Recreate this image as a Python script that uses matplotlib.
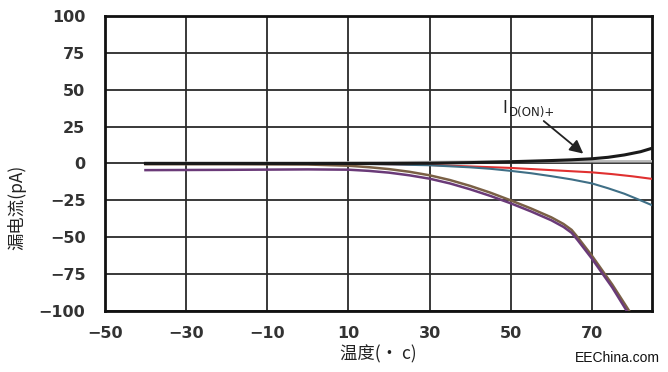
import matplotlib
matplotlib.use("Agg")
import matplotlib.pyplot as plt

plt.rcParams['font.family'] = ['Noto Sans CJK SC', 'DejaVu Sans']

# Data
x_black = [-40, -20, 0, 10, 20, 30, 40, 50, 55, 60, 65, 70, 74, 78, 82, 85]
y_black = [0, 0, 0, 0, 0, 0.2, 0.6, 1.2, 1.6, 2.0, 2.5, 3.2, 4.2, 5.8, 8.0, 10.5]

x_gray = [-40, 0, 30, 50, 70, 85]
y_gray = [0.5, 0.5, 1.0, 1.5, 1.5, 1.5]

x_red = [-40, 0, 10, 20, 30, 40, 50, 60, 70, 75, 80, 85]
y_red = [0, 0, 0, -0.5, -1.0, -2.0, -3.0, -4.5, -6.0, -7.2, -8.7, -10.5]

x_blue = [-40, 0, 10, 20, 30, 40, 45, 50, 55, 60, 65, 70, 74, 78, 82, 85]
y_blue = [0, 0, -0.2, -0.6, -1.2, -2.6, -3.6, -5.0, -6.6, -8.6, -10.8, -13.5, -16.8, -20.5, -25.0, -28.5]

x_brown = [-40, -20, 0, 10, 15, 20, 25, 30, 35, 40, 45, 50, 55, 60, 63, 65, 66.5, 70, 75, 79.2]
y_brown = [-0.5, -0.5, -0.7, -1.5, -2.5, -3.8, -5.6, -8.0, -11.2, -15.2, -19.8, -25.0, -30.5, -36.5, -41.0, -45.0, -50.0, -62.5, -82.0, -100]

x_purple = [-40, -20, 0, 10, 15, 20, 25, 30, 35, 40, 45, 50, 55, 60, 63, 65, 66.5, 70, 75, 78.6]
y_purple = [-4.5, -4.3, -4.0, -4.2, -5.0, -6.2, -8.0, -10.3, -13.5, -17.5, -22.0, -27.0, -32.5, -38.5, -43.0, -47.0, -52.0, -64.5, -84.0, -100]

x_ticks = [-50, -30, -10, 10, 30, 50, 70]
y_ticks = [-100, -75, -50, -25, 0, 25, 50, 75, 100]


def fmt(v):
    return '\u2212' + str(-v) if v < 0 else str(v)


fig = plt.figure(figsize=(6.68, 3.72), dpi=100)
ax = fig.add_axes([0.157, 0.164, 0.819, 0.793])

ax.set_xlim(-50, 84.8)
ax.set_ylim(-100, 100)
ax.set_xticks(x_ticks)
ax.set_yticks(y_ticks)
ax.set_xticklabels([fmt(v) for v in x_ticks], family=['DejaVu Sans'],
                   fontsize=11.5, fontweight='bold', color='#333333')
ax.set_yticklabels([fmt(v) for v in y_ticks], family=['DejaVu Sans'],
                   fontsize=11.5, fontweight='bold', color='#333333')
ax.tick_params(axis='y', length=0, pad=14)
ax.tick_params(axis='x', length=0, pad=11)

ax.grid(True, color='#2a2a2a', linewidth=1.3)
ax.set_axisbelow(True)
for s in ax.spines.values():
    s.set_linewidth(2)
    s.set_color('#111111')

ax.plot(x_gray, y_gray, color='#bbbbbb', linewidth=1.8, zorder=3)
ax.plot(x_red, y_red, color='#e03030', linewidth=1.5, zorder=3)
ax.plot(x_blue, y_blue, color='#3f6f86', linewidth=1.5, zorder=3)
ax.plot(x_brown, y_brown, color='#7a6045', linewidth=1.8, zorder=3)
ax.plot(x_purple, y_purple, color='#6a3a78', linewidth=1.8, zorder=3)
ax.plot(x_black, y_black, color='#1a1a1a', linewidth=2.2, zorder=4)

ax.annotate('', xy=(68.4, 5.5), xytext=(57.6, 30),
            arrowprops=dict(arrowstyle='-|>', color='#222222', lw=1.3,
                            mutation_scale=20), zorder=5)
ax.text(48.0, 34.5, 'I', fontsize=12, color='#222222',
        family=['DejaVu Sans'], zorder=5)
ax.text(49.6, 32.0, 'D(ON)+', fontsize=8.5, color='#222222',
        family=['DejaVu Sans'], zorder=5)

ax.set_ylabel('漏电流(pA)', fontsize=12.5, color='#222222')
ax.yaxis.set_label_coords(-0.143, 0.35)
ax.set_xlabel('温度(• c)', fontsize=12.5, color='#222222', labelpad=3)

fig.text(0.988, 0.02, 'EEChina.com', ha='right', va='bottom', fontsize=10,
         color='#111111', family=['Liberation Sans'])

fig.savefig('out.png', dpi=100)
